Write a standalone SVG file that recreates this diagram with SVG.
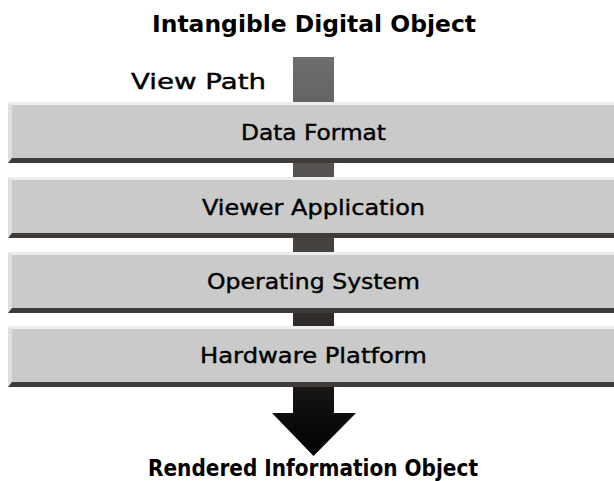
<svg xmlns="http://www.w3.org/2000/svg" width="614" height="481" viewBox="0 0 614 481">
<defs>
<linearGradient id="pathGrad" gradientUnits="userSpaceOnUse" x1="0" y1="57" x2="0" y2="456">
<stop offset="0" stop-color="#6e6e6e"/>
<stop offset="0.5" stop-color="#433f3d"/>
<stop offset="1" stop-color="#000000"/>
</linearGradient>
<style>
.hl{fill:#ededed}
.hl2{fill:#dedede}
.face{fill:#c9cac9}
.shadow{fill:#3f3b39}
.lbl{font-family:"DejaVu Sans","Liberation Sans",sans-serif;font-size:21px;fill:#000;stroke:#000;stroke-width:0.4;text-anchor:middle}
.ttl{font-family:"DejaVu Sans","Liberation Sans",sans-serif;font-size:23px;font-weight:bold;fill:#000;text-anchor:middle}
</style>
</defs>
<rect width="614" height="481" fill="#ffffff"/>
<g id="connectors">
<path d="M293,57 H334 V413 H356 L313.5,456 L272,413 H293 Z" fill="url(#pathGrad)"/>
</g>
<g id="title">
<text class="ttl" x="314" y="32" textLength="324" lengthAdjust="spacingAndGlyphs">Intangible Digital Object</text>
</g>
<g id="viewpath-label">
<text class="lbl" x="198.5" y="89" font-size="24" textLength="135" lengthAdjust="spacingAndGlyphs">View Path</text>
</g>
<g id="data-format">
<rect class="hl" x="8" y="102" width="606" height="61"/>
<rect class="hl2" x="8" y="104" width="4" height="57"/>
<rect class="face" x="12" y="105" width="602" height="53"/>
<polygon class="shadow" points="8,163 12,158 614,158 614,163"/>
<text class="lbl" x="313.5" y="140" textLength="145" lengthAdjust="spacingAndGlyphs">Data Format</text>
</g>
<g id="viewer-application">
<rect class="hl" x="8" y="177" width="606" height="61"/>
<rect class="hl2" x="8" y="179" width="4" height="57"/>
<rect class="face" x="12" y="180" width="602" height="53"/>
<polygon class="shadow" points="8,238 12,233 614,233 614,238"/>
<text class="lbl" x="313.5" y="215" textLength="223" lengthAdjust="spacingAndGlyphs">Viewer Application</text>
</g>
<g id="operating-system">
<rect class="hl" x="8" y="252" width="606" height="61"/>
<rect class="hl2" x="8" y="254" width="4" height="57"/>
<rect class="face" x="12" y="255" width="602" height="53"/>
<polygon class="shadow" points="8,313 12,308 614,308 614,313"/>
<text class="lbl" x="313.5" y="289" textLength="213" lengthAdjust="spacingAndGlyphs">Operating System</text>
</g>
<g id="hardware-platform">
<rect class="hl" x="8" y="326" width="606" height="61"/>
<rect class="hl2" x="8" y="328" width="4" height="57"/>
<rect class="face" x="12" y="329" width="602" height="53"/>
<polygon class="shadow" points="8,387 12,382 614,382 614,387"/>
<text class="lbl" x="313.5" y="363" textLength="227" lengthAdjust="spacingAndGlyphs">Hardware Platform</text>
</g>
<g id="rendered-object">
<text class="ttl" x="313" y="476" textLength="330" lengthAdjust="spacingAndGlyphs">Rendered Information Object</text>
</g>
</svg>
